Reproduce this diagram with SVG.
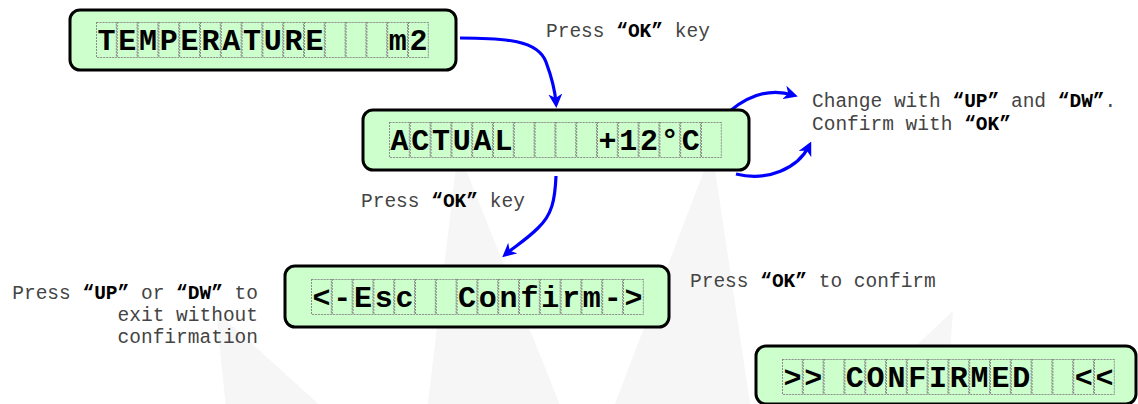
<svg xmlns="http://www.w3.org/2000/svg" width="1138" height="404" viewBox="0 0 1138 404">
  <defs>
    <style>
      .lcd { fill: #ccffcc; stroke: #000; stroke-width: 3; }
      .cells { fill: url(#cell); }
      .chars { font-family: "Liberation Mono", "Courier New", monospace; font-weight: bold; font-size: 30px; letter-spacing: 2.8px; fill: #000; }
      .label { font-family: "Liberation Mono", "Courier New", monospace; font-size: 19.5px; fill: #444; }
      .label .key { font-weight: bold; fill: #000; }
      .flow { fill: none; stroke: #0000ff; stroke-width: 3.2; marker-end: url(#head); }
      .mark { fill: #f6f6f6; }
    </style>
    <!-- one dashed character cell, tiled along each display row -->
    <pattern id="cell" width="20.8" height="36" patternUnits="userSpaceOnUse">
      <rect x="0.5" y="0.5" width="19.8" height="35" fill="none" stroke="#8a8a8a" stroke-width="1" stroke-dasharray="2 1"/>
    </pattern>
    <marker id="head" viewBox="0 0 14 14" markerWidth="14" markerHeight="14" refX="9" refY="7" orient="auto" markerUnits="userSpaceOnUse">
      <path d="M0,0 L14,7 L0,14 L4,7 z" fill="#0000ff"/>
    </marker>
  </defs>

  <rect width="1138" height="404" fill="#fff"/>

  <!-- faint background emblem -->
  <g id="emblem">
    <polygon class="mark" points="216,311 240,545 400,478"/>
    <polygon class="mark" points="458,150 420,470 570,430"/>
    <polygon class="mark" points="712,150 605,430 760,470"/>
    <polygon class="mark" points="953,311 775,478 936,545"/>
    <circle class="mark" cx="588" cy="830" r="380"/>
    <circle cx="588" cy="830" r="376" fill="none" stroke="#fff" stroke-width="8"/>
  </g>

  <g id="connectors">
    <path class="flow" d="M460,38 C505,38 538,40 546,62 C552,78 555,90 556,103"/>
    <path class="flow" d="M730,111 C748,96 770,88 793,95"/>
    <path class="flow" d="M736,174 C768,182 798,168 809,146"/>
    <path class="flow" d="M556,176 C555,200 552,215 538,228 C526,240 514,247 506,254"/>
  </g>

  <g id="temperature" transform="translate(70,10)">
    <rect class="lcd" x="0" y="0" width="386" height="60" rx="10"/>
    <g transform="translate(26,12)">
      <rect class="cells" width="332.8" height="36"/>
      <text class="chars" x="1.4" y="28" xml:space="preserve">TEMPERATURE   m2</text>
    </g>
  </g>

  <g id="actual" transform="translate(363,110)">
    <rect class="lcd" x="0" y="0" width="386" height="60" rx="10"/>
    <g transform="translate(26,12)">
      <rect class="cells" width="332.8" height="36"/>
      <text class="chars" x="1.4" y="28" xml:space="preserve">ACTUAL    +12°C</text>
    </g>
  </g>

  <g id="confirm" transform="translate(285,266)">
    <rect class="lcd" x="0" y="0" width="384" height="61" rx="10"/>
    <g transform="translate(26,13)">
      <rect class="cells" width="332.8" height="36"/>
      <text class="chars" x="1.4" y="28" xml:space="preserve">&lt;-Esc  Confirm-&gt;</text>
    </g>
  </g>

  <g id="confirmed" transform="translate(756,346)">
    <rect class="lcd" x="0" y="0" width="380" height="58" rx="10"/>
    <g transform="translate(26,13)">
      <rect class="cells" width="332.8" height="36"/>
      <text class="chars" x="1.4" y="28" xml:space="preserve">&gt;&gt; CONFIRMED  &lt;&lt;</text>
    </g>
  </g>

  <g id="labels">
    <text class="label" x="546" y="37">Press <tspan class="key">“OK”</tspan> key</text>
    <text class="label" x="812" y="107">Change with <tspan class="key">“UP”</tspan> and <tspan class="key">“DW”</tspan>.</text>
    <text class="label" x="812" y="130">Confirm with <tspan class="key">“OK”</tspan></text>
    <text class="label" x="361" y="207">Press <tspan class="key">“OK”</tspan> key</text>
    <text class="label" x="258" y="299" text-anchor="end">Press <tspan class="key">“UP”</tspan> or <tspan class="key">“DW”</tspan> to</text>
    <text class="label" x="258" y="321" text-anchor="end">exit without</text>
    <text class="label" x="258" y="343" text-anchor="end">confirmation</text>
    <text class="label" x="690" y="287">Press <tspan class="key">“OK”</tspan> to confirm</text>
  </g>
</svg>
